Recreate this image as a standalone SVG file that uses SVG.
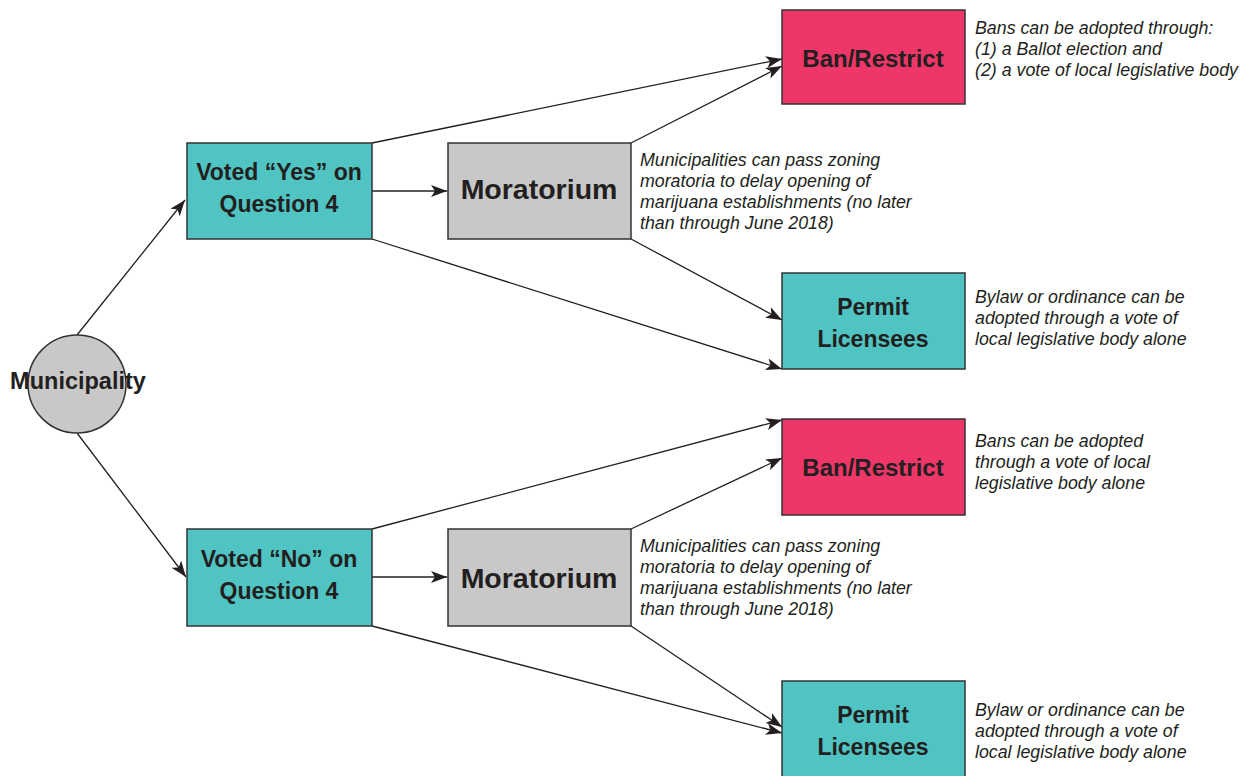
<svg xmlns="http://www.w3.org/2000/svg" width="1245" height="776" viewBox="0 0 1245 776">
<style>
.box{stroke:#333;stroke-width:1.5}
.teal{fill:#4fc4c2}
.pink{fill:#ee3768}
.gray{fill:#c8c8c8}
.lbl{font-family:"Liberation Sans",Arial,sans-serif;font-weight:bold;fill:#231f20;text-anchor:middle}
.note{font-family:"Liberation Sans",Arial,sans-serif;font-style:italic;font-size:17.8px;fill:#231f20}
.conn line{stroke:#231f20;stroke-width:1.3;marker-end:url(#ah)}
</style>
<defs>
<marker id="ah" markerUnits="userSpaceOnUse" markerWidth="18" markerHeight="14" refX="16" refY="6" orient="auto">
<path d="M0,0 L16,6 L0,12 L4,6 z" fill="#231f20"/>
</marker>
</defs>
<rect width="1245" height="776" fill="#fff"/>
<g id="connectors" class="conn">
<line x1="77" y1="335" x2="185" y2="200"/>
<line x1="77" y1="433" x2="186" y2="577"/>
<line x1="372" y1="191" x2="447" y2="191"/>
<line x1="372" y1="143" x2="782" y2="59"/>
<line x1="631" y1="143" x2="782" y2="66"/>
<line x1="631" y1="239" x2="782" y2="320"/>
<line x1="372" y1="239" x2="782" y2="369"/>
<line x1="372" y1="577" x2="447" y2="577"/>
<line x1="372" y1="529" x2="782" y2="420"/>
<line x1="631" y1="529" x2="782" y2="458"/>
<line x1="631" y1="626" x2="782" y2="727"/>
<line x1="372" y1="626" x2="782" y2="733"/>
</g>
<g id="municipality">
<circle cx="77" cy="384" r="49" class="box gray" stroke="#555"/>
<text x="78" y="389" class="lbl" font-size="23.5">Municipality</text>
</g>
<g id="voted-yes">
<rect x="187" y="143" width="185" height="96" class="box teal"/>
<text x="279" y="180" class="lbl" font-size="23">Voted “Yes” on</text>
<text x="279" y="212" class="lbl" font-size="23">Question 4</text>
</g>
<g id="moratorium-1">
<rect x="448" y="143" width="183" height="96" class="box gray"/>
<text x="539" y="199" class="lbl" font-size="28.5">Moratorium</text>
</g>
<g id="moratorium-1-note">
<text class="note" x="640" y="166">Municipalities can pass zoning</text>
<text class="note" x="640" y="187">moratoria to delay opening of</text>
<text class="note" x="640" y="208">marijuana establishments (no later</text>
<text class="note" x="640" y="229">than through June 2018)</text>
</g>
<g id="ban-1">
<rect x="782" y="10" width="183" height="94" class="box pink"/>
<text x="873" y="67" class="lbl" font-size="24">Ban/Restrict</text>
</g>
<g id="ban-1-note">
<text class="note" x="975" y="34">Bans can be adopted through:</text>
<text class="note" x="975" y="55">(1) a Ballot election and</text>
<text class="note" x="975" y="76">(2) a vote of local legislative body</text>
</g>
<g id="permit-1">
<rect x="782" y="273" width="183" height="96" class="box teal"/>
<text x="873" y="315" class="lbl" font-size="23">Permit</text>
<text x="873" y="347" class="lbl" font-size="23">Licensees</text>
</g>
<g id="permit-1-note">
<text class="note" x="975" y="303">Bylaw or ordinance can be</text>
<text class="note" x="975" y="324">adopted through a vote of</text>
<text class="note" x="975" y="345">local legislative body alone</text>
</g>
<g id="voted-no">
<rect x="187" y="529" width="185" height="97" class="box teal"/>
<text x="279" y="567" class="lbl" font-size="23">Voted “No” on</text>
<text x="279" y="599" class="lbl" font-size="23">Question 4</text>
</g>
<g id="moratorium-2">
<rect x="448" y="529" width="183" height="97" class="box gray"/>
<text x="539" y="588" class="lbl" font-size="28.5">Moratorium</text>
</g>
<g id="moratorium-2-note">
<text class="note" x="640" y="552">Municipalities can pass zoning</text>
<text class="note" x="640" y="573">moratoria to delay opening of</text>
<text class="note" x="640" y="594">marijuana establishments (no later</text>
<text class="note" x="640" y="615">than through June 2018)</text>
</g>
<g id="ban-2">
<rect x="782" y="419" width="183" height="96" class="box pink"/>
<text x="873" y="476" class="lbl" font-size="24">Ban/Restrict</text>
</g>
<g id="ban-2-note">
<text class="note" x="975" y="447">Bans can be adopted</text>
<text class="note" x="975" y="468">through a vote of local</text>
<text class="note" x="975" y="489">legislative body alone</text>
</g>
<g id="permit-2">
<rect x="782" y="681" width="183" height="100" class="box teal"/>
<text x="873" y="723" class="lbl" font-size="23">Permit</text>
<text x="873" y="755" class="lbl" font-size="23">Licensees</text>
</g>
<g id="permit-2-note">
<text class="note" x="975" y="716">Bylaw or ordinance can be</text>
<text class="note" x="975" y="737">adopted through a vote of</text>
<text class="note" x="975" y="758">local legislative body alone</text>
</g>
</svg>
